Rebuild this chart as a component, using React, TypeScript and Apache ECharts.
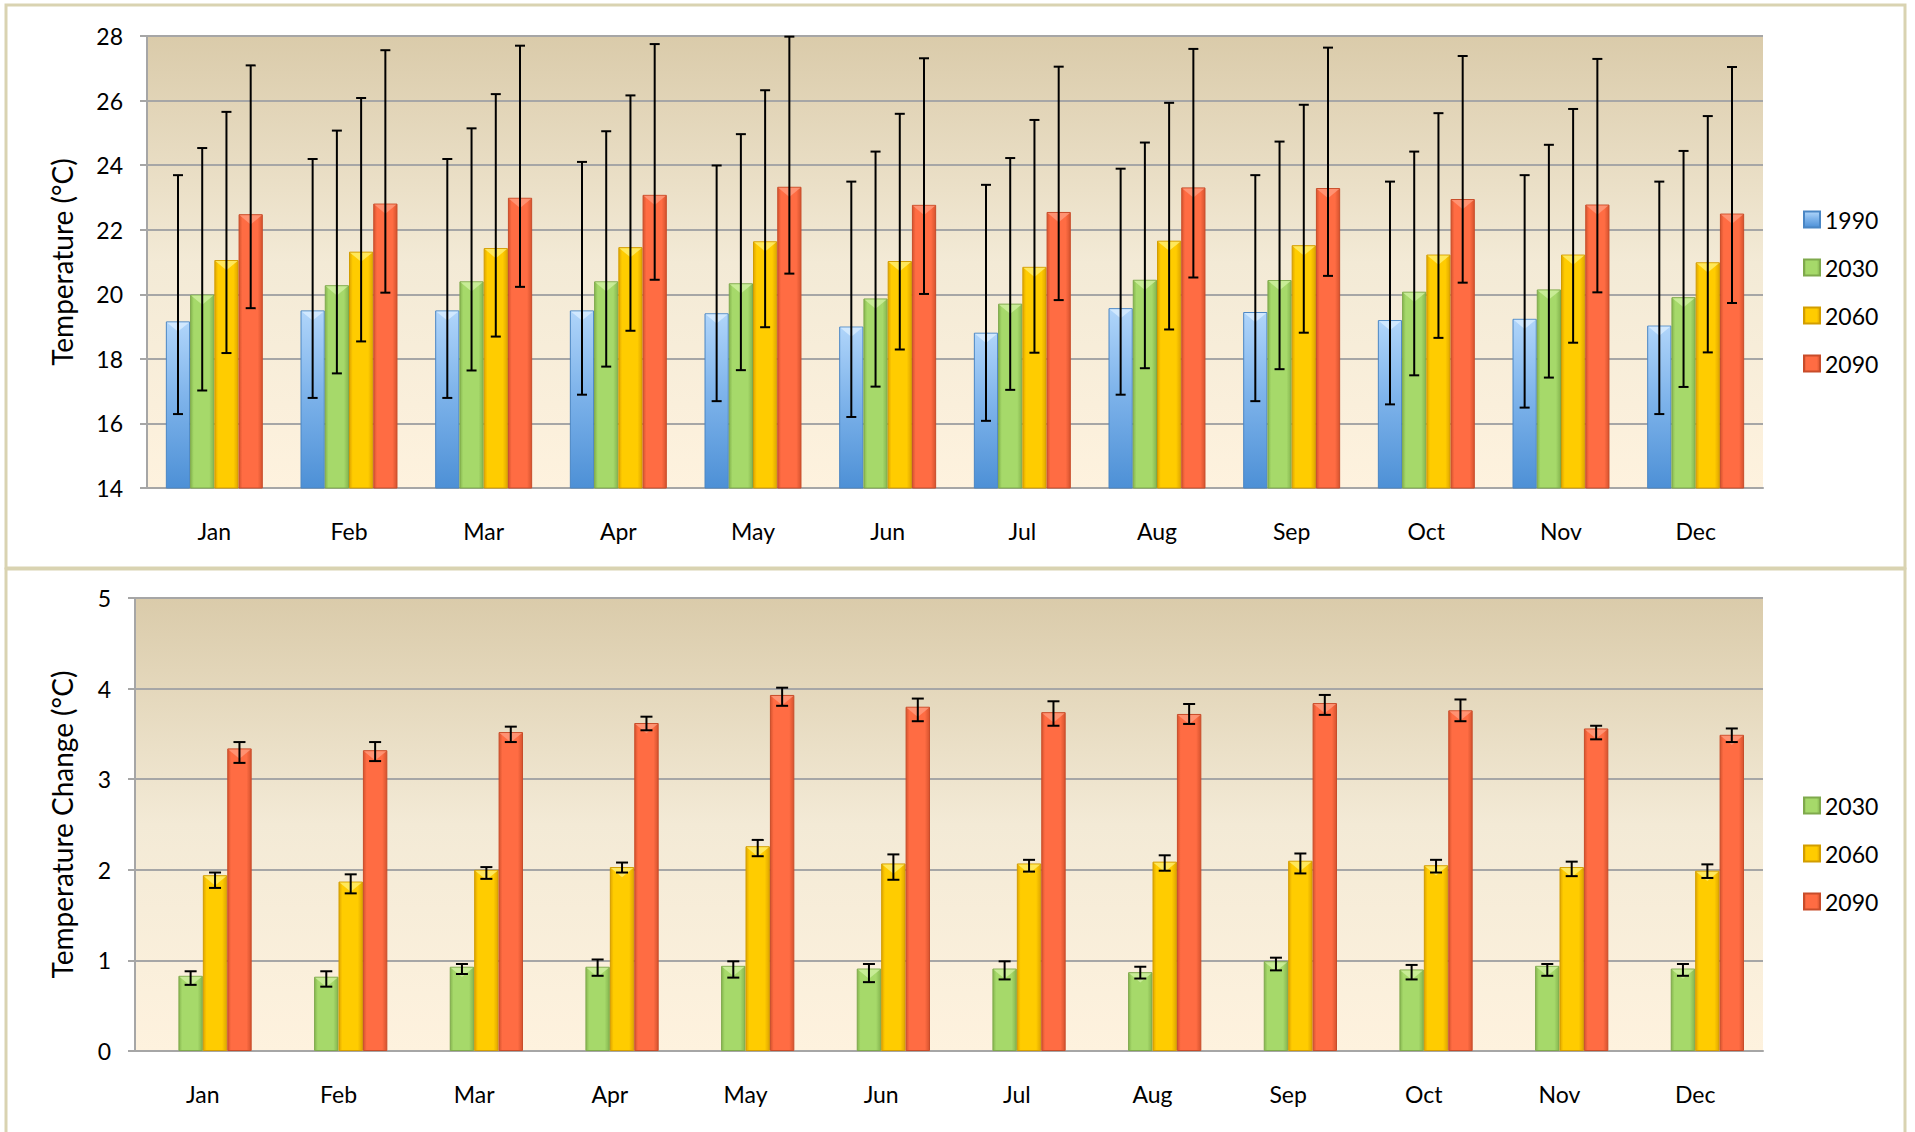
import React, { useEffect, useRef } from 'react';
import * as echarts from 'echarts';

const months = ['Jan', 'Feb', 'Mar', 'Apr', 'May', 'Jun', 'Jul', 'Aug', 'Sep', 'Oct', 'Nov', 'Dec'];
const yearsTop = ['1990', '2030', '2060', '2090'];
const yearsBottom = ['2030', '2060', '2090'];

// Top chart: mean temperature (°C) and error bar ends
const temp1990 = [19.16, 19.5, 19.5, 19.5, 19.41, 19.0, 18.81, 19.57, 19.45, 19.2, 19.24, 19.03];
const temp1990Hi = [23.69, 24.19, 24.19, 24.1, 23.99, 23.49, 23.39, 23.89, 23.69, 23.49, 23.69, 23.49];
const temp1990Lo = [16.29, 16.79, 16.79, 16.89, 16.69, 16.2, 16.08, 16.89, 16.69, 16.59, 16.49, 16.29];

const temp2030 = [19.99, 20.28, 20.4, 20.4, 20.34, 19.87, 19.71, 20.45, 20.44, 20.08, 20.15, 19.91];
const temp2030Hi = [24.53, 25.07, 25.14, 25.05, 24.96, 24.42, 24.22, 24.7, 24.73, 24.42, 24.63, 24.44];
const temp2030Lo = [17.02, 17.55, 17.64, 17.76, 17.65, 17.14, 17.04, 17.71, 17.68, 17.49, 17.42, 17.13];

const temp2060 = [21.06, 21.32, 21.43, 21.46, 21.64, 21.03, 20.85, 21.66, 21.52, 21.23, 21.23, 20.99];
const temp2060Hi = [25.65, 26.08, 26.2, 26.16, 26.32, 25.59, 25.4, 25.93, 25.87, 25.61, 25.74, 25.52];
const temp2060Lo = [18.18, 18.54, 18.69, 18.87, 18.98, 18.29, 18.19, 18.91, 18.81, 18.65, 18.5, 18.2];

const temp2090 = [22.48, 22.81, 22.99, 23.08, 23.33, 22.77, 22.55, 23.31, 23.29, 22.95, 22.78, 22.5];
const temp2090Hi = [27.09, 27.56, 27.7, 27.75, 27.98, 27.31, 27.05, 27.6, 27.64, 27.38, 27.29, 27.04];
const temp2090Lo = [19.57, 20.05, 20.23, 20.45, 20.64, 20.01, 19.82, 20.52, 20.57, 20.36, 20.06, 19.73];

// Bottom chart: temperature change (°C) and error bar ends
const chg2030 = [0.83, 0.82, 0.93, 0.93, 0.94, 0.91, 0.91, 0.87, 0.99, 0.9, 0.94, 0.91];
const chg2030Hi = [0.88, 0.88, 0.96, 1.01, 0.99, 0.96, 0.99, 0.93, 1.03, 0.95, 0.96, 0.96];
const chg2030Lo = [0.73, 0.71, 0.85, 0.83, 0.81, 0.76, 0.79, 0.8, 0.89, 0.79, 0.83, 0.83];

const chg2060 = [1.94, 1.87, 2.0, 2.03, 2.26, 2.07, 2.07, 2.09, 2.1, 2.05, 2.03, 1.99];
const chg2060Hi = [1.97, 1.95, 2.03, 2.08, 2.33, 2.17, 2.11, 2.16, 2.18, 2.11, 2.09, 2.06];
const chg2060Lo = [1.8, 1.74, 1.9, 1.97, 2.15, 1.89, 1.98, 1.99, 1.96, 1.97, 1.93, 1.91];

const chg2090 = [3.34, 3.32, 3.52, 3.62, 3.93, 3.8, 3.74, 3.72, 3.84, 3.76, 3.56, 3.49];
const chg2090Hi = [3.41, 3.41, 3.58, 3.69, 4.01, 3.89, 3.86, 3.83, 3.93, 3.88, 3.59, 3.56];
const chg2090Lo = [3.18, 3.2, 3.41, 3.54, 3.81, 3.64, 3.59, 3.61, 3.71, 3.64, 3.44, 3.41];

const topTicksMin = 14;
const topTicksMax = 28;
const topTicksStep = 2;
const botTicksMin = 0;
const botTicksMax = 5;
const botTicksStep = 1;

const FONT = 'Lato';
const CAT_GAP = 0.28;
const GRID_LINE = '#a6a6a6';

type Sty = { fill: any; border: string; light: string };

const hGrad = (edge: string, main: string) =>
  new echarts.graphic.LinearGradient(0, 0, 1, 0, [
    { offset: 0, color: edge },
    { offset: 0.14, color: main },
    { offset: 0.8, color: main },
    { offset: 1, color: edge },
  ]);

const styles: Record<string, Sty> = {
  '1990': {
    fill: new echarts.graphic.LinearGradient(0, 0, 0, 1, [
      { offset: 0, color: '#b0d5fa' },
      { offset: 0.45, color: '#7fb4eb' },
      { offset: 1, color: '#4d90d6' },
    ]),
    border: '#4a86c4',
    light: '#dcefff',
  },
  '2030': { fill: hGrad('#86b64f', '#a6d96a'), border: '#7fa94c', light: '#d3f2a6' },
  '2060': { fill: hGrad('#e0a600', '#ffcc00'), border: '#d29d00', light: '#fff27a' },
  '2090': { fill: hGrad('#d6532e', '#ff6c43'), border: '#c84c2a', light: '#ff9f82' },
};

function barSeries(name: string, data: number[], axis: number) {
  const s = styles[name];
  return {
    type: 'bar',
    name,
    xAxisIndex: axis,
    yAxisIndex: axis,
    data,
    barGap: '0%',
    barCategoryGap: CAT_GAP * 100 + '%',
    itemStyle: { color: s.fill, borderColor: s.border, borderWidth: 1 },
    z: 2,
  };
}

function overlaySeries(name: string, slot: number, axis: number, mean: number[], lo: number[], hi: number[], cap: number) {
  const s = styles[name];
  return {
    type: 'custom',
    name: name + ' error',
    xAxisIndex: axis,
    yAxisIndex: axis,
    z: 5,
    silent: true,
    data: months.map((_, i) => [i, mean[i], lo[i], hi[i]]),
    encode: { x: 0, y: [1, 2, 3] },
    renderItem: (params: any, api: any) => {
      const i = api.value(0);
      const c = api.coord([i, api.value(1)]);
      const cl = api.coord([i, api.value(2)]);
      const ch = api.coord([i, api.value(3)]);
      const band = api.size([1, 0])[0];
      const bw = (band * (1 - CAT_GAP)) / 4;
      const xc = c[0] + (slot - 1.5) * bw;
      const x0 = xc - bw / 2 + 1;
      const x1 = xc + bw / 2 - 1;
      const ln = { stroke: '#000', lineWidth: 2 };
      return {
        type: 'group',
        children: [
          {
            type: 'polygon',
            shape: { points: [[x0, c[1] + 1], [x1, c[1] + 1], [xc, c[1] + bw * 0.42]] },
            style: { fill: s.light, opacity: 0.75 },
          },
          { type: 'line', shape: { x1: xc, y1: ch[1], x2: xc, y2: cl[1] }, style: ln },
          { type: 'line', shape: { x1: xc - cap, y1: ch[1], x2: xc + cap, y2: ch[1] }, style: ln },
          { type: 'line', shape: { x1: xc - cap, y1: cl[1], x2: xc + cap, y2: cl[1] }, style: ln },
        ],
      };
    },
  };
}

const plotBg = () =>
  new echarts.graphic.LinearGradient(0, 0, 0, 1, [
    { offset: 0, color: '#dacbaa' },
    { offset: 0.5, color: '#f3ead6' },
    { offset: 1, color: '#fef2de' },
  ]);

function xAxisCfg(gridIndex: number) {
  return {
    type: 'category',
    gridIndex,
    data: months,
    axisLine: { lineStyle: { color: GRID_LINE, width: 2 } },
    axisTick: { length: 8, lineStyle: { color: GRID_LINE, width: 2 } },
    axisLabel: { interval: 0, margin: 31, fontFamily: FONT, fontSize: 23, color: '#000' },
  };
}

function yAxisCfg(gridIndex: number, min: number, max: number, step: number, name: string, nameGap: number) {
  return {
    type: 'value',
    gridIndex,
    min,
    max,
    interval: step,
    name,
    nameLocation: 'middle',
    nameRotate: 90,
    nameGap,
    nameTextStyle: { fontFamily: FONT, fontSize: 28, color: '#000' },
    axisLine: { show: true, lineStyle: { color: GRID_LINE, width: 2 } },
    axisTick: { show: true, length: 7, lineStyle: { color: GRID_LINE, width: 2 } },
    splitLine: { show: true, lineStyle: { color: GRID_LINE, width: 2 } },
    axisLabel: { margin: 24, fontFamily: FONT, fontSize: 23, color: '#000' },
  };
}

function legendCfg(data: string[], top: number) {
  return {
    data,
    orient: 'vertical',
    left: 1803,
    top,
    padding: 0,
    itemWidth: 16,
    itemHeight: 16,
    itemGap: 25,
    icon: 'rect',
    selectedMode: false,
    textStyle: { fontFamily: FONT, fontSize: 23, color: '#000' },
  };
}

export default function App() {
  const ref = useRef<HTMLDivElement>(null);
  useEffect(() => {
    document.body.style.margin = '0';
    const chart = echarts.init(ref.current!, null, { renderer: 'svg' });
    const option: any = {
      animation: false,
      backgroundColor: '#ffffff',
      graphic: [
        {
          type: 'rect',
          silent: true,
          shape: { x: 6, y: 5, width: 1899, height: 563 },
          style: { fill: 'rgba(0,0,0,0)', stroke: '#d9d3b1', lineWidth: 3 },
        },
        {
          type: 'rect',
          silent: true,
          shape: { x: 6, y: 569, width: 1899, height: 620 },
          style: { fill: 'rgba(0,0,0,0)', stroke: '#d9d3b1', lineWidth: 3 },
        },
      ],
      grid: [
        { left: 147, top: 36, width: 1616, height: 452, show: true, borderWidth: 0, backgroundColor: plotBg() },
        { left: 135, top: 598, width: 1628, height: 453, show: true, borderWidth: 0, backgroundColor: plotBg() },
      ],
      xAxis: [xAxisCfg(0), xAxisCfg(1)],
      yAxis: [
        yAxisCfg(0, topTicksMin, topTicksMax, topTicksStep, 'Temperature (°C)', 71),
        yAxisCfg(1, botTicksMin, botTicksMax, botTicksStep, 'Temperature Change (°C)', 59),
      ],
      legend: [legendCfg(yearsTop, 208), legendCfg(yearsBottom, 794)],
      series: [
        barSeries('1990', temp1990, 0),
        barSeries('2030', temp2030, 0),
        barSeries('2060', temp2060, 0),
        barSeries('2090', temp2090, 0),
        overlaySeries('1990', 0, 0, temp1990, temp1990Lo, temp1990Hi, 5),
        overlaySeries('2030', 1, 0, temp2030, temp2030Lo, temp2030Hi, 5),
        overlaySeries('2060', 2, 0, temp2060, temp2060Lo, temp2060Hi, 5),
        overlaySeries('2090', 3, 0, temp2090, temp2090Lo, temp2090Hi, 5),
        {
          type: 'bar',
          name: 'empty slot',
          xAxisIndex: 1,
          yAxisIndex: 1,
          data: months.map(() => '-'),
          barGap: '0%',
          barCategoryGap: CAT_GAP * 100 + '%',
        },
        barSeries('2030', chg2030, 1),
        barSeries('2060', chg2060, 1),
        barSeries('2090', chg2090, 1),
        overlaySeries('2030', 1, 1, chg2030, chg2030Lo, chg2030Hi, 6),
        overlaySeries('2060', 2, 1, chg2060, chg2060Lo, chg2060Hi, 6),
        overlaySeries('2090', 3, 1, chg2090, chg2090Lo, chg2090Hi, 6),
      ],
    };
    chart.setOption(option);
    return () => chart.dispose();
  }, []);
  return <div ref={ref} style={{ width: 1915, height: 1132, background: '#fff' }} />;
}
